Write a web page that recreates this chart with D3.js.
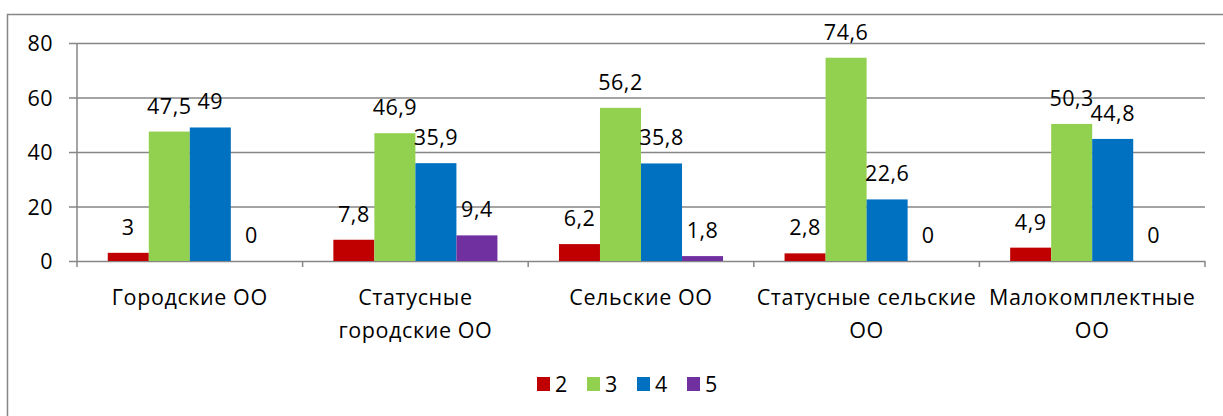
<!DOCTYPE html>
<html>
<head>
<meta charset="utf-8">
<script src="https://cdn.jsdelivr.net/npm/d3@7"></script>
<style>
  body { margin: 0; background: #fff; }
  svg text { font-family: "Open Sans", sans-serif; fill: #000; }
</style>
</head>
<body>
<div class="chart"></div>
<script>
// data
var categories = ["Городские ОО", "Статусные\nгородские ОО", "Сельские ОО", "Статусные сельские\nОО", "Малокомплектные\nОО"];
var seriesNames = ["2", "3", "4", "5"];
var values2 = [3, 7.8, 6.2, 2.8, 4.9];
var values3 = [47.5, 46.9, 56.2, 74.6, 50.3];
var values4 = [49, 35.9, 35.8, 22.6, 44.8];
var values5 = [0, 9.4, 1.8, 0, 0];
var yTicks = [0, 20, 40, 60, 80];
var colors = ["#C00000", "#92D050", "#0070C0", "#7030A0"];

var allSeries = [values2, values3, values4, values5];

function drawChart() {
    var width = 1223, height = 416;
    var left = 77, right = 1205, top = 43, bottom = 261;

    var svg = d3.select(".chart").append("svg")
            .attr("width", width)
            .attr("height", height);

    // outer frame
    svg.append("rect")
            .attr("x", 7.5).attr("y", 14.5)
            .attr("width", 1230).attr("height", 430)
            .attr("fill", "none")
            .attr("stroke", "#868686")
            .attr("stroke-width", 1.5);

    var x = d3.scaleBand().domain(categories).range([left, right]);
    var xs = d3.scaleBand().domain(seriesNames).range([0, x.bandwidth()])
            .paddingInner(0).paddingOuter(0.75);
    var y = d3.scaleLinear().domain([0, 80]).range([bottom, top]);

    // grid lines + y labels
    var yAxis = d3.axisLeft(y).tickValues(yTicks)
            .tickSize(-(right - left) - 8)
            .tickFormat(d3.format("d"));
    var gy = svg.append("g")
            .attr("transform", "translate(" + (left - 8) + ",0)")
            .call(yAxis);
    gy.select(".domain").remove();
    gy.selectAll(".tick line")
            .attr("stroke", "#868686").attr("stroke-width", 1.5);
    gy.selectAll(".tick text")
            .attr("x", -16)
            .attr("dy", "0.36em")
            .style("font-size", "21.5px")
            .style("letter-spacing", "0.5px");

    // vertical axis line
    svg.append("line")
            .attr("x1", left).attr("x2", left)
            .attr("y1", top).attr("y2", bottom + 6)
            .attr("stroke", "#868686").attr("stroke-width", 1.5);

    // category boundary ticks
    var bounds = categories.map(function (c) { return x(c) + x.bandwidth(); });
    svg.selectAll("line.xtick")
            .data(bounds)
            .enter()
            .append("line")
            .attr("class", "xtick")
            .attr("x1", function (d) { return d; })
            .attr("x2", function (d) { return d; })
            .attr("y1", bottom)
            .attr("y2", bottom + 6)
            .attr("stroke", "#868686").attr("stroke-width", 1.5);

    // bars
    var groups = svg.selectAll("g.cat")
            .data(categories)
            .enter()
            .append("g")
            .attr("class", "cat")
            .attr("transform", function (d) { return "translate(" + x(d) + ",0)"; });

    groups.selectAll("rect")
            .data(function (d, i) {
                return seriesNames.map(function (s, j) {
                    return {s: s, v: allSeries[j][i], c: colors[j]};
                });
            })
            .enter()
            .append("rect")
            .attr("x", function (d) { return xs(d.s); })
            .attr("width", xs.bandwidth())
            .attr("y", function (d) { return y(d.v); })
            .attr("height", function (d) { return y(0) - y(d.v); })
            .attr("fill", function (d) { return d.c; });

    groups.selectAll("text")
            .data(function (d, i) {
                return seriesNames.map(function (s, j) {
                    return {s: s, v: allSeries[j][i]};
                });
            })
            .enter()
            .append("text")
            .attr("x", function (d) { return xs(d.s) + xs.bandwidth() / 2; })
            .attr("y", function (d) { return y(d.v) - 18; })
            .attr("text-anchor", "middle")
            .style("font-size", "21.5px")
            .style("letter-spacing", "0.5px")
            .text(function (d) { return String(d.v).replace(".", ","); });

    // category labels
    var labels = svg.selectAll("text.cat")
            .data(categories)
            .enter()
            .append("text")
            .attr("class", "cat")
            .attr("text-anchor", "middle")
            .style("font-size", "21.5px")
            .style("letter-spacing", "0.6px");
    labels.selectAll("tspan")
            .data(function (d) { return d.split("\n"); })
            .enter()
            .append("tspan")
            .attr("x", function () { return x(this.parentNode.__data__) + x.bandwidth() / 2; })
            .attr("y", function (d, i) { return 305 + i * 33; })
            .text(function (d) { return d; });

    // legend
    var legend = svg.selectAll("g.legend")
            .data(seriesNames)
            .enter()
            .append("g")
            .attr("class", "legend")
            .attr("transform", function (d, i) { return "translate(" + (537 + i * 50) + ",377)"; });
    legend.append("rect")
            .attr("width", 13).attr("height", 14)
            .attr("fill", function (d, i) { return colors[i]; });
    legend.append("text")
            .attr("x", 18).attr("y", 15)
            .style("font-size", "21.5px")
            .text(function (d) { return d; });
}

drawChart();
</script>
</body>
</html>
